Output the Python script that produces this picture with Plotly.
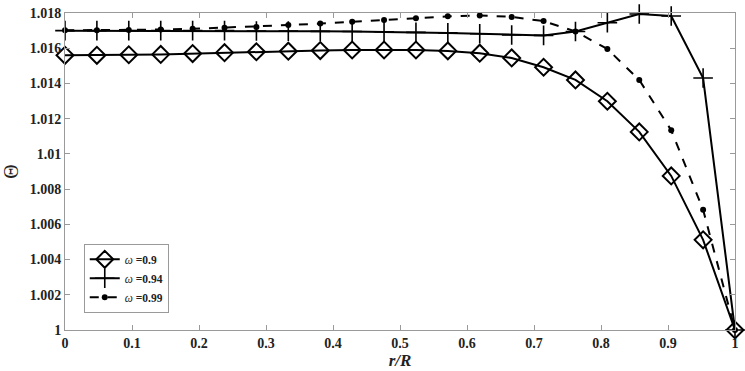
import plotly.graph_objects as go

r = [0, 0.0476, 0.0952, 0.1429, 0.1905, 0.2381, 0.2857, 0.3333, 0.3810, 0.4286, 0.4762,
     0.5238, 0.5714, 0.6190, 0.6667, 0.7143, 0.7619, 0.8095, 0.8571, 0.9048, 0.9524, 1.0]

theta_090 = [1.0156, 1.0156, 1.01563, 1.01565, 1.0157, 1.01575, 1.0158, 1.01583, 1.01587, 1.0159,
             1.0159, 1.0159, 1.01585, 1.01572, 1.01545, 1.01492, 1.0142, 1.01299, 1.01125,
             1.00875, 1.00512, 1.0]
theta_094 = [1.0170, 1.0170, 1.0170, 1.0170, 1.0170, 1.0170, 1.01698, 1.01697, 1.01696, 1.01695,
             1.01694, 1.0169, 1.01687, 1.01682, 1.01675, 1.01673, 1.01695, 1.01745, 1.01794,
             1.01783, 1.01431, 1.0]
theta_099 = [1.01702, 1.01702, 1.01704, 1.01706, 1.0171, 1.01717, 1.01721, 1.01732, 1.0174, 1.0175,
             1.01761, 1.0177, 1.01781, 1.01786, 1.01778, 1.01754, 1.01695, 1.01596, 1.0142,
             1.01134, 1.00683, 1.0]

x_ticks = [0, 0.1, 0.2, 0.3, 0.4, 0.5, 0.6, 0.7, 0.8, 0.9, 1]
x_labels = ["0", "0.1", "0.2", "0.3", "0.4", "0.5", "0.6", "0.7", "0.8", "0.9", "1"]
y_ticks = [1, 1.002, 1.004, 1.006, 1.008, 1.01, 1.012, 1.014, 1.016, 1.018]
y_labels = ["1", "1.002", "1.004", "1.006", "1.008", "1.01", "1.012", "1.014", "1.016", "1.018"]

names = ["<i>ω</i> <b>=0.9</b>", "<i>ω</i> <b>=0.94</b>", "<i>ω</i> <b>=0.99</b>"]

FONT = "Liberation Serif"
fig = go.Figure()
fig.add_trace(go.Scatter(x=r, y=theta_090, mode="lines+markers", name=names[0], cliponaxis=False,
                         line=dict(color="black", width=2),
                         marker=dict(symbol="diamond-open", size=13, color="black", line=dict(width=2))))
fig.add_trace(go.Scatter(x=r, y=theta_094, mode="lines+markers", name=names[1], cliponaxis=False,
                         line=dict(color="black", width=2),
                         marker=dict(symbol="cross-thin-open", size=14, color="black", line=dict(width=1.6))))
fig.add_trace(go.Scatter(x=r, y=theta_099, mode="lines+markers", name=names[2], cliponaxis=False,
                         line=dict(color="black", width=2, dash="dash"),
                         marker=dict(symbol="circle", size=6, color="black")))

axis_common = dict(showgrid=False, zeroline=False, showline=True, linecolor="#9a9a9a", linewidth=1,
                   mirror="ticks", ticks="inside", ticklen=5, tickcolor="#9a9a9a",
                   ticklabeloverflow="allow",
                   tickfont=dict(family=FONT, size=14, color="#222"))
fig.update_xaxes(range=[0, 1.000001], tickvals=x_ticks, ticktext=["<b>%s</b>" % t for t in x_labels],
                 title=dict(text="<b><i>r/R</i></b>", font=dict(family=FONT, size=17, color="#222"), standoff=2),
                 **axis_common)
fig.update_yaxes(range=[1, 1.018001], tickvals=y_ticks, ticktext=["<b>%s</b>" % t for t in y_labels],
                 title=dict(text="Θ", font=dict(family=FONT, size=20, color="#222"), standoff=10),
                 **axis_common)
fig.update_layout(
    width=745, height=371,
    margin=dict(l=59, r=8, t=6, b=39),
    plot_bgcolor="white", paper_bgcolor="white",
    legend=dict(x=0.028, y=0.272, xanchor="left", yanchor="top", bgcolor="white",
                bordercolor="#9a9a9a", borderwidth=1, itemwidth=30, tracegroupgap=0,
                font=dict(family=FONT, size=11.5, color="#222")),
)
fig.write_html("out.html", config={"displayModeBar": False},
               post_script="document.body.style.margin='0';document.body.style.overflow='hidden';")
